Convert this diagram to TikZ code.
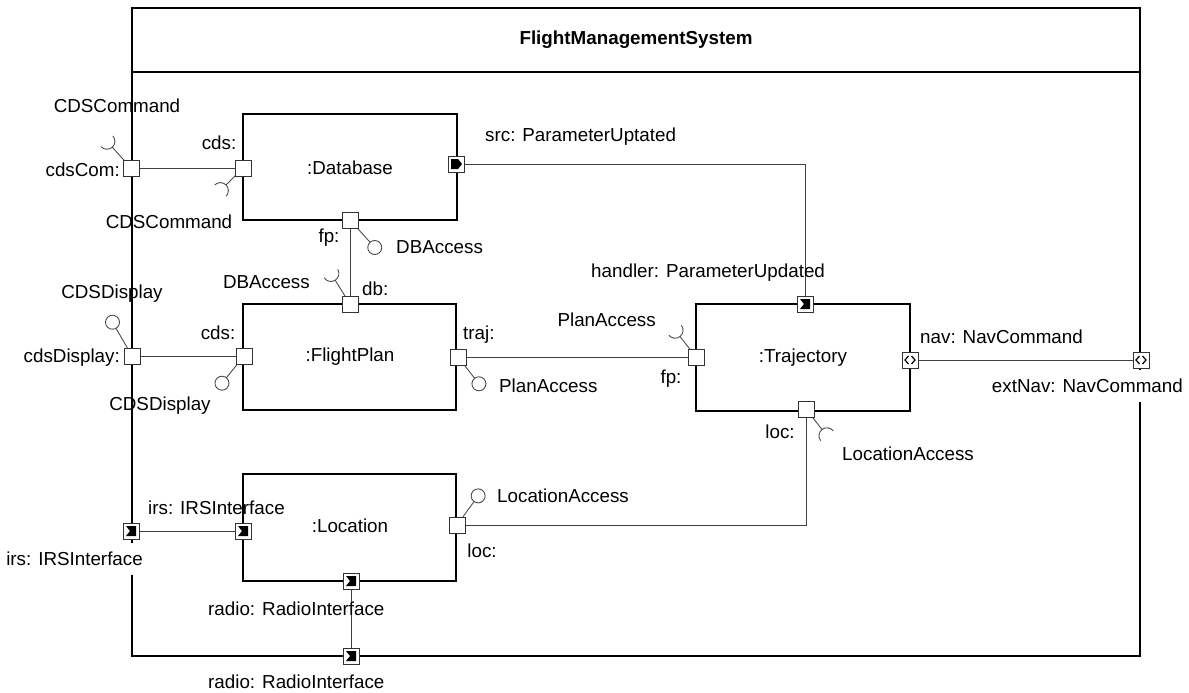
\documentclass[tikz,border=0pt]{standalone}
\usepackage{fontspec}
\setmainfont{Liberation Sans}
\usetikzlibrary{calc}
\newcommand\mysocket[3]{%
  \draw[stick] (#1) -- ++(#2:#3);
  \draw[stick] (#1) ++(#2:#3+8) ++(#2+90:8) arc[start angle=#2+90,end angle=#2+270,radius=8];}
\newcommand\myball[3]{%
  \draw[stick] (#1) -- ++(#2:#3);
  \draw[stick,fill=white] (#1) ++(#2:#3+7) circle (7);}
\begin{document}
\begin{tikzpicture}[x=1pt,y=-1pt,
  frame/.style={draw=black,line width=1.1pt},
  part/.style={draw=black,line width=1.1pt},
  conn/.style={draw=black!75,line width=1pt},
  stick/.style={draw=black!70,line width=0.9pt},
  portbox/.style={draw=black!80,fill=white,line width=0.9pt,minimum size=16pt,inner sep=0pt,shape=rectangle},
  lbl/.style={inner sep=0pt,font=\fontsize{18.8}{20}\selectfont},
  gaplbl/.style={lbl,fill=white,minimum height=32pt},
]
\useasboundingbox (0,0) rectangle (1189,693);
% outer frame
\draw[frame] (132,8) rectangle (1140,656);
\draw[frame] (132,72) -- (1140,72);
\node[lbl,font=\fontsize{18.8}{20}\selectfont\bfseries] (title) at (636,40) {FlightManagementSystem};

% parts
\draw[part] (243,114) rectangle (457,220);
\node[lbl] (dbname) at (350,168) {:Database};
\draw[part] (243,304) rectangle (456,410);
\node[lbl] (fpname) at (350,357) {:FlightPlan};
\draw[part] (696,304) rectangle (910,411);
\node[lbl] (trname) at (803,358) {:Trajectory};
\draw[part] (243,474) rectangle (456,581);
\node[lbl] (loname) at (350,526) {:Location};

% port coordinates
\coordinate (pCdsCom) at (131,168);
\coordinate (pDbCds) at (243,168);
\coordinate (pDbSrc) at (456,164);
\coordinate (pDbFp) at (350,220);
\coordinate (pFpDb) at (350,304);
\coordinate (pCdsDisp) at (132,356);
\coordinate (pFpCds) at (244,356);
\coordinate (pFpTraj) at (458,357);
\coordinate (pTrFp) at (696,357);
\coordinate (pTrHandler) at (805,304);
\coordinate (pTrNav) at (910,360);
\coordinate (pExtNav) at (1141,360);
\coordinate (pTrLoc) at (806,409);
\coordinate (pLoLoc) at (457,525);
\coordinate (pIrsExt) at (131,531);
\coordinate (pLoIrs) at (243,531);
\coordinate (pLoRadio) at (351,581);
\coordinate (pRadioExt) at (351,656);

% connectors
\draw[conn] (pCdsCom) -- (pDbCds);
\draw[conn] (pCdsDisp) -- (pFpCds);
\draw[conn] (pDbFp) -- (pFpDb);
\draw[conn] (pFpTraj) -- (pTrFp);
\draw[conn] (pDbSrc) -| (pTrHandler);
\draw[conn] (pTrNav) -- (pExtNav);
\draw[conn] (pLoLoc) -| (pTrLoc);
\draw[conn] (pIrsExt) -- (pLoIrs);
\draw[conn] (pLoRadio) -- (pRadioExt);

% lollipops: balls (provided interfaces)
\myball{pDbFp}{48}{30}
\myball{pCdsDisp}{240}{32}
\myball{pFpCds}{129}{28}
\myball{pFpTraj}{52}{27}
\myball{pLoLoc}{306}{29}
% sockets (required interfaces)
\mysocket{pCdsCom}{228}{28}
\mysocket{pDbCds}{135}{24}
\mysocket{pFpDb}{238}{28}
\mysocket{pTrFp}{232}{26}
\mysocket{pTrLoc}{52}{26}

% ports
\foreach \p in {pCdsCom,pDbCds,pDbFp,pFpDb,pCdsDisp,pFpCds,pFpTraj,pTrFp,pTrLoc,pLoLoc}
  \node[portbox] (n\p) at (\p) {};
\foreach \p in {pTrHandler,pIrsExt,pLoIrs,pLoRadio,pRadioExt}{
  \node[portbox] (n\p) at (\p) {};
  \fill[black] ($(\p)+(-5,-5)$) -- ++(10,0) -- ++(0,10) -- ++(-10,0) -- ++(4,-5) -- cycle;
}
\node[portbox] (npDbSrc) at (pDbSrc) {};
\fill[black] ($(pDbSrc)+(-5,-5)$) -- ++(7,0) -- ++(4,5) -- ++(-4,5) -- ++(-7,0) -- cycle;
\foreach \p in {pTrNav,pExtNav}{
  \node[portbox] (n\p) at (\p) {};
  \draw[black,line width=1.2pt] ($(\p)+(-1.5,-4)$) -- ++(-3.5,4) -- ++(3.5,4);
  \draw[black,line width=1.2pt] ($(\p)+(1.5,-4)$) -- ++(3.5,4) -- ++(-3.5,4);
}

% labels
\node[lbl,anchor=center] (l1) at (117,106) {CDSCommand};
\node[lbl,anchor=east] (l2) at (120,170) {cdsCom:};
\node[lbl] (l3) at (219,143) {cds:};
\node[lbl] (l4) at (169,222) {CDSCommand};
\node[lbl,anchor=west] (l5) at (485,137) {src: ParameterUptated};
\node[lbl] (l6) at (329,238) {fp:};
\node[lbl,anchor=west] (l7) at (396,247) {DBAccess};
\node[lbl,anchor=east] (l8) at (310,282) {DBAccess};
\node[lbl,anchor=west] (l9) at (362,289) {db:};
\node[lbl] (l10) at (112,294) {CDSDisplay};
\node[lbl,anchor=east] (l11) at (120,358) {cdsDisplay:};
\node[lbl] (l12) at (218,333) {cds:};
\node[lbl] (l13) at (160,406) {CDSDisplay};
\node[lbl,anchor=west] (l14) at (463,335) {traj:};
\node[lbl,anchor=west] (l15) at (499,386) {PlanAccess};
\node[lbl,anchor=east] (l16) at (656,320) {PlanAccess};
\node[lbl] (l17) at (671,379) {fp:};
\node[lbl,anchor=west] (l18) at (591,273) {handler: ParameterUpdated};
\node[lbl,anchor=west] (l19) at (920,337) {nav: NavCommand};
\node[gaplbl,anchor=east] (l20) at (1183,386) {extNav: NavCommand};
\node[lbl] (l21) at (780,432) {loc:};
\node[lbl,anchor=west] (l22) at (842,454) {LocationAccess};
\node[lbl,anchor=west] (l23) at (497,496) {LocationAccess};
\node[lbl] (l24) at (482,551) {loc:};
\node[lbl,anchor=west] (l25) at (148,508) {irs: IRSInterface};
\node[gaplbl,anchor=east] (l26) at (143,559) {irs: IRSInterface};
\node[lbl,anchor=west] (l27) at (208,609) {radio: RadioInterface};
\node[lbl,anchor=west] (l28) at (208,682) {radio: RadioInterface};
\end{tikzpicture}
\end{document}
